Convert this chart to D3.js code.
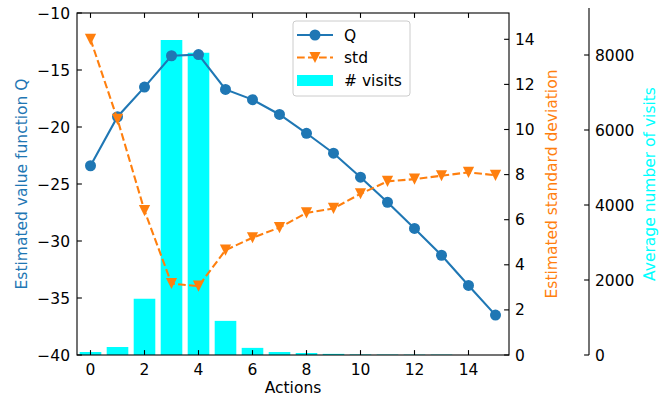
<!DOCTYPE html>
<html><head><meta charset="utf-8">
<script src="https://cdn.jsdelivr.net/npm/d3@7"></script>
<style>body{margin:0;background:#fff}svg{display:block}text{font-family:"DejaVu Sans",sans-serif}</style>
</head><body>
<svg id="c" width="661" height="400"></svg>
<script>
const actions = d3.range(16);
const qValues = [-23.4,-19.1,-16.5,-13.75,-13.65,-16.7,-17.6,-18.9,-20.55,-22.3,-24.4,-26.6,-28.9,-31.25,-33.9,-36.5];
const stdValues = [14.0,10.45,6.4,3.17,3.05,4.65,5.2,5.65,6.3,6.5,7.15,7.7,7.8,7.95,8.1,7.97];
const visits = [80,213,1500,8400,8060,910,190,80,53,30,15,12,10,10,0,0];
const xTicks = [0,2,4,6,8,10,12,14];
const qTicks = [-40,-35,-30,-25,-20,-15,-10];
const stdTicks = [0,2,4,6,8,10,12,14];
const visitTicks = [0,2000,4000,6000,8000];

const blue="#1f77b4", orange="#ff7f0e", cyan="#00ffff";
const L=77, R=509, T=13, B=355, V=589;
const svg=d3.select("#c");
const x=d3.scaleLinear().domain([-0.5,15.5]).range([L,R]);
const yQ=d3.scaleLinear().domain([-40,-10]).range([B,T]);
const yS=d3.scaleLinear().domain([0,342/22.55]).range([B,T]);
const yV=d3.scaleLinear().domain([0,9120]).range([B,T]);
const fs="15.5px";

// bars
svg.append("g").selectAll("rect").data(actions).join("rect")
  .attr("x",d=>x(d-0.4)).attr("width",x(0.8)-x(0))
  .attr("y",d=>yV(visits[d])).attr("height",d=>B-yV(visits[d]))
  .attr("fill",cyan);

// Q line
svg.append("path").datum(actions)
  .attr("d",d3.line().x(d=>x(d)).y(d=>yQ(qValues[d])))
  .attr("fill","none").attr("stroke",blue).attr("stroke-width",2.1);
svg.append("g").selectAll("circle").data(actions).join("circle")
  .attr("cx",d=>x(d)).attr("cy",d=>yQ(qValues[d])).attr("r",5.5).attr("fill",blue);

// std line
svg.append("path").datum(actions)
  .attr("d",d3.line().x(d=>x(d)).y(d=>yS(stdValues[d])))
  .attr("fill","none").attr("stroke",orange).attr("stroke-width",2.1)
  .attr("stroke-dasharray","7.7,3.3");
const tri=(cx,cy)=>`M${cx},${cy+5.6}L${cx-5.6},${cy-5.6}L${cx+5.6},${cy-5.6}Z`;
svg.append("g").selectAll("path").data(actions).join("path")
  .attr("d",d=>tri(x(d),yS(stdValues[d]))).attr("fill",orange);

// frame
const ax=svg.append("g").attr("stroke","#000").attr("stroke-width",1.1).attr("fill","none");
ax.append("rect").attr("x",L).attr("y",T).attr("width",R-L).attr("height",B-T);
ax.append("line").attr("x1",V).attr("x2",V).attr("y1",8).attr("y2",B);
// ticks
xTicks.forEach(t=>{
  ax.append("line").attr("x1",x(t)).attr("x2",x(t)).attr("y1",B).attr("y2",B-4.9);
  ax.append("line").attr("x1",x(t)).attr("x2",x(t)).attr("y1",T).attr("y2",T+4.9);
  svg.append("text").attr("x",x(t)).attr("y",374.5).attr("text-anchor","middle").attr("font-size",fs).text(t);
});
const fmt=v=>(v<0?"\u2212":"")+Math.abs(v);
qTicks.forEach(t=>{
  ax.append("line").attr("x1",L).attr("x2",L+4.9).attr("y1",yQ(t)).attr("y2",yQ(t));
  svg.append("text").attr("x",70).attr("y",yQ(t)).attr("dy","0.36em").attr("text-anchor","end").attr("font-size",fs).text(fmt(t));
});
stdTicks.forEach(t=>{
  ax.append("line").attr("x1",R).attr("x2",R-4.9).attr("y1",yS(t)).attr("y2",yS(t));
  svg.append("text").attr("x",515).attr("y",yS(t)).attr("dy","0.36em").attr("font-size",fs).text(t);
});
visitTicks.forEach(t=>{
  ax.append("line").attr("x1",V).attr("x2",V-4.9).attr("y1",yV(t)).attr("y2",yV(t));
  svg.append("text").attr("x",595).attr("y",yV(t)).attr("dy","0.36em").attr("font-size",fs).text(t);
});

// axis labels
const cy=(T+B)/2;
svg.append("text").attr("transform",`translate(26.5,${cy}) rotate(-90)`).attr("text-anchor","middle")
  .attr("font-size",fs).attr("fill",blue).text("Estimated value function Q");
svg.append("text").attr("transform",`translate(556.5,${cy}) rotate(-90)`).attr("text-anchor","middle")
  .attr("font-size",fs).attr("fill",orange).text("Estimated standard deviation");
svg.append("text").attr("transform",`translate(655,${cy}) rotate(-90)`).attr("text-anchor","middle")
  .attr("font-size",fs).attr("fill",cyan).text("Average number of visits");
svg.append("text").attr("x",(L+R)/2).attr("y",393).attr("text-anchor","middle").attr("font-size",fs).text("Actions");

// legend
const lg=svg.append("g");
lg.append("rect").attr("x",293).attr("y",21).attr("width",117).attr("height",75).attr("rx",3)
  .attr("fill","#fff").attr("fill-opacity",0.8).attr("stroke","#cccccc").attr("stroke-width",1);
lg.append("line").attr("x1",297).attr("x2",333).attr("y1",35).attr("y2",35).attr("stroke",blue).attr("stroke-width",2.1);
lg.append("circle").attr("cx",315).attr("cy",35).attr("r",5.5).attr("fill",blue);
lg.append("line").attr("x1",297).attr("x2",333).attr("y1",57.5).attr("y2",57.5).attr("stroke",orange).attr("stroke-width",2.1).attr("stroke-dasharray","7.7,3.3");
lg.append("path").attr("d",tri(315,57.5)).attr("fill",orange);
lg.append("rect").attr("x",297).attr("y",75).attr("width",36).attr("height",11).attr("fill",cyan);
[["Q",35],["std",57.5],["# visits",80.5]].forEach(([t,yy])=>{
  lg.append("text").attr("x",344).attr("y",yy).attr("dy","0.36em").attr("font-size",fs).text(t);
});
</script>
</body></html>
